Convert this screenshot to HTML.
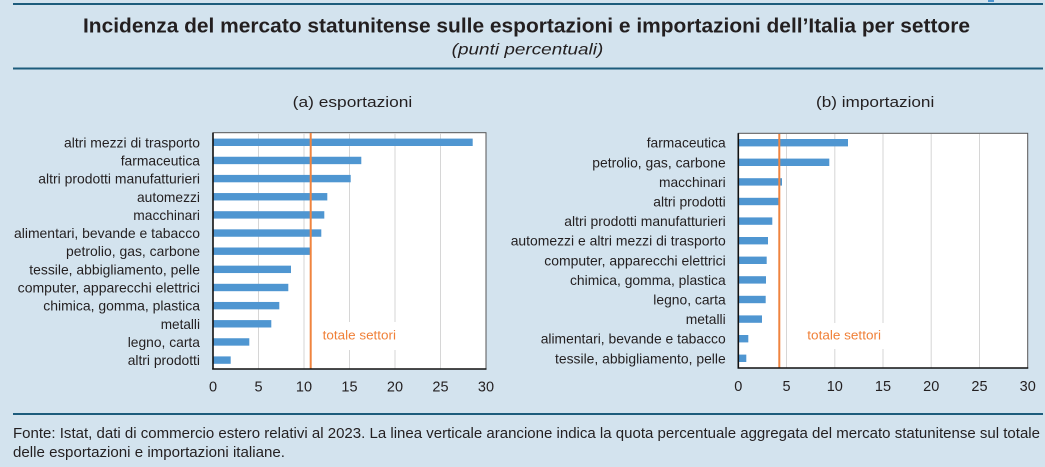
<!DOCTYPE html>
<html><head><meta charset="utf-8"><style>
html,body{margin:0;padding:0;background:#d3e3ee;}
svg{display:block;}
text{font-family:"Liberation Sans",Arial,sans-serif;fill:#231f20;}
</style></head><body>
<svg width="1045" height="467" viewBox="0 0 1045 467" xmlns="http://www.w3.org/2000/svg">
<rect x="0" y="0" width="1045" height="467" fill="#d3e3ee"/>
<line x1="13" y1="4" x2="1043" y2="4" stroke="#1d5c7c" stroke-width="2"/>
<line x1="13" y1="68.5" x2="1043" y2="68.5" stroke="#1d5c7c" stroke-width="2"/>
<line x1="13" y1="414" x2="1043" y2="414" stroke="#1d5c7c" stroke-width="2"/>
<rect x="988" y="0" width="6" height="2" fill="#4f96d1"/>

<text x="83" y="32.5" font-size="20" font-weight="bold" textLength="887" lengthAdjust="spacingAndGlyphs">Incidenza del mercato statunitense sulle esportazioni e importazioni dell’Italia per settore</text>
<text x="451.7" y="54.3" font-size="16" font-style="italic" textLength="151.6" lengthAdjust="spacingAndGlyphs">(punti percentuali)</text>

<text x="292.7" y="107" font-size="15" textLength="119.6" lengthAdjust="spacingAndGlyphs">(a) esportazioni</text>
<text x="816" y="107" font-size="15" textLength="118.3" lengthAdjust="spacingAndGlyphs">(b) importazioni</text>

<!-- LEFT CHART -->
<rect x="213" y="132.7" width="273" height="236.3" fill="#ffffff" stroke="#555" stroke-width="1"/>
<g stroke="#d6d6d6" stroke-width="1">
<line x1="258.5" y1="133" x2="258.5" y2="369"/>
<line x1="304" y1="133" x2="304" y2="369"/>
<line x1="349.5" y1="133" x2="349.5" y2="369"/>
<line x1="395" y1="133" x2="395" y2="369"/>
<line x1="440.5" y1="133" x2="440.5" y2="369"/>
</g>
<g fill="#4f96d1">
<rect x="213" y="138.6" width="259.7" height="7.4"/>
<rect x="213" y="156.75" width="148.3" height="7.4"/>
<rect x="213" y="174.9" width="137.7" height="7.4"/>
<rect x="213" y="193.05" width="114.3" height="7.4"/>
<rect x="213" y="211.2" width="111.3" height="7.4"/>
<rect x="213" y="229.35" width="108.3" height="7.4"/>
<rect x="213" y="247.5" width="97" height="7.4"/>
<rect x="213" y="265.65" width="78" height="7.4"/>
<rect x="213" y="283.8" width="75.3" height="7.4"/>
<rect x="213" y="301.95" width="66.3" height="7.4"/>
<rect x="213" y="320.1" width="58.3" height="7.4"/>
<rect x="213" y="338.25" width="36.3" height="7.4"/>
<rect x="213" y="356.4" width="17.7" height="7.4"/>
</g>
<rect x="313" y="322" width="87" height="28" fill="#ffffff"/>
<line x1="310.7" y1="133" x2="310.7" y2="369" stroke="#f0843f" stroke-width="2"/>
<text x="322.7" y="339.5" font-size="13" style="fill:#f08038" textLength="73.3" lengthAdjust="spacingAndGlyphs">totale settori</text>
<line x1="213" y1="132.7" x2="213" y2="369.5" stroke="#111" stroke-width="1.6"/>
<line x1="212.2" y1="369" x2="486.5" y2="369" stroke="#111" stroke-width="1.6"/>

<g font-size="14" text-anchor="end">
<text x="200" y="147.3" textLength="136" lengthAdjust="spacingAndGlyphs">altri mezzi di trasporto</text>
<text x="200" y="165.45" textLength="79.3" lengthAdjust="spacingAndGlyphs">farmaceutica</text>
<text x="200" y="183.6" textLength="161.7" lengthAdjust="spacingAndGlyphs">altri prodotti manufatturieri</text>
<text x="200" y="201.75" textLength="63" lengthAdjust="spacingAndGlyphs">automezzi</text>
<text x="200" y="219.9" textLength="66.7" lengthAdjust="spacingAndGlyphs">macchinari</text>
<text x="200" y="238.05" textLength="186" lengthAdjust="spacingAndGlyphs">alimentari, bevande e tabacco</text>
<text x="200" y="256.2" textLength="134" lengthAdjust="spacingAndGlyphs">petrolio, gas, carbone</text>
<text x="200" y="274.35" textLength="170.7" lengthAdjust="spacingAndGlyphs">tessile, abbigliamento, pelle</text>
<text x="200" y="292.5" textLength="182.3" lengthAdjust="spacingAndGlyphs">computer, apparecchi elettrici</text>
<text x="200" y="310.65" textLength="156.7" lengthAdjust="spacingAndGlyphs">chimica, gomma, plastica</text>
<text x="200" y="328.8" textLength="39.3" lengthAdjust="spacingAndGlyphs">metalli</text>
<text x="200" y="346.95" textLength="72.3" lengthAdjust="spacingAndGlyphs">legno, carta</text>
<text x="200" y="365.1" textLength="72.3" lengthAdjust="spacingAndGlyphs">altri prodotti</text>
</g>
<g font-size="14.5" text-anchor="middle">
<text x="213" y="391.5">0</text>
<text x="258.5" y="391.5">5</text>
<text x="304" y="391.5">10</text>
<text x="349.5" y="391.5">15</text>
<text x="395" y="391.5">20</text>
<text x="440.5" y="391.5">25</text>
<text x="486" y="391.5">30</text>
</g>

<!-- RIGHT CHART -->
<rect x="738.3" y="133.3" width="289.4" height="234.7" fill="#ffffff" stroke="#555" stroke-width="1"/>
<g stroke="#d6d6d6" stroke-width="1">
<line x1="786.5" y1="134" x2="786.5" y2="368"/>
<line x1="834.8" y1="134" x2="834.8" y2="368"/>
<line x1="883" y1="134" x2="883" y2="368"/>
<line x1="931.2" y1="134" x2="931.2" y2="368"/>
<line x1="979.5" y1="134" x2="979.5" y2="368"/>
</g>
<g fill="#4f96d1">
<rect x="738.3" y="139" width="109.7" height="7.4"/>
<rect x="738.3" y="158.6" width="91" height="7.4"/>
<rect x="738.3" y="178.2" width="43.7" height="7.4"/>
<rect x="738.3" y="197.8" width="41" height="7.4"/>
<rect x="738.3" y="217.4" width="34" height="7.4"/>
<rect x="738.3" y="237" width="29.7" height="7.4"/>
<rect x="738.3" y="256.6" width="28.4" height="7.4"/>
<rect x="738.3" y="276.2" width="27.7" height="7.4"/>
<rect x="738.3" y="295.8" width="27.4" height="7.4"/>
<rect x="738.3" y="315.4" width="23.7" height="7.4"/>
<rect x="738.3" y="335" width="10" height="7.4"/>
<rect x="738.3" y="354.6" width="8" height="7.4"/>
</g>
<rect x="800" y="323" width="89" height="26" fill="#ffffff"/>
<line x1="779.3" y1="134" x2="779.3" y2="368" stroke="#f0843f" stroke-width="2"/>
<text x="807.3" y="339.5" font-size="13" style="fill:#f08038" textLength="73.7" lengthAdjust="spacingAndGlyphs">totale settori</text>
<line x1="738.3" y1="133.3" x2="738.3" y2="368.5" stroke="#111" stroke-width="1.6"/>
<line x1="737.5" y1="368" x2="1028.2" y2="368" stroke="#111" stroke-width="1.6"/>

<g font-size="14" text-anchor="end">
<text x="725.7" y="147.7" textLength="79" lengthAdjust="spacingAndGlyphs">farmaceutica</text>
<text x="725.7" y="167.3" textLength="133.4" lengthAdjust="spacingAndGlyphs">petrolio, gas, carbone</text>
<text x="725.7" y="186.9" textLength="66.7" lengthAdjust="spacingAndGlyphs">macchinari</text>
<text x="725.7" y="206.5" textLength="72.4" lengthAdjust="spacingAndGlyphs">altri prodotti</text>
<text x="725.7" y="226.1" textLength="161.4" lengthAdjust="spacingAndGlyphs">altri prodotti manufatturieri</text>
<text x="725.7" y="245.7" textLength="215" lengthAdjust="spacingAndGlyphs">automezzi e altri mezzi di trasporto</text>
<text x="725.7" y="265.3" textLength="181.4" lengthAdjust="spacingAndGlyphs">computer, apparecchi elettrici</text>
<text x="725.7" y="284.9" textLength="155.7" lengthAdjust="spacingAndGlyphs">chimica, gomma, plastica</text>
<text x="725.7" y="304.5" textLength="72.4" lengthAdjust="spacingAndGlyphs">legno, carta</text>
<text x="725.7" y="324.1" textLength="40" lengthAdjust="spacingAndGlyphs">metalli</text>
<text x="725.7" y="343.7" textLength="185" lengthAdjust="spacingAndGlyphs">alimentari, bevande e tabacco</text>
<text x="725.7" y="363.3" textLength="170.7" lengthAdjust="spacingAndGlyphs">tessile, abbigliamento, pelle</text>
</g>
<g font-size="14.5" text-anchor="middle">
<text x="738.3" y="391">0</text>
<text x="786.5" y="391">5</text>
<text x="834.8" y="391">10</text>
<text x="883" y="391">15</text>
<text x="931.2" y="391">20</text>
<text x="979.5" y="391">25</text>
<text x="1027.7" y="391">30</text>
</g>

<text x="13" y="438" font-size="14.5" textLength="1027" lengthAdjust="spacingAndGlyphs">Fonte: Istat, dati di commercio estero relativi al 2023. La linea verticale arancione indica la quota percentuale aggregata del mercato statunitense sul totale</text>
<text x="13" y="457" font-size="14.5" textLength="272" lengthAdjust="spacingAndGlyphs">delle esportazioni e importazioni italiane.</text>
</svg>
</body></html>
